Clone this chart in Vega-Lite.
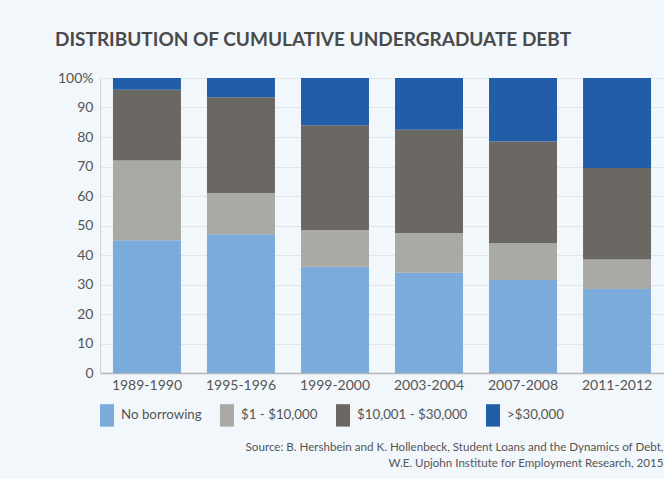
{
  "$schema": "https://vega.github.io/schema/vega-lite/v6.json",
  "width": 564,
  "height": 295,
  "autosize": {"type": "none"},
  "padding": {"left": 100, "top": 78, "right": 0, "bottom": 106},
  "background": "#f2f7fb",
  "title": {
    "text": "DISTRIBUTION OF CUMULATIVE UNDERGRADUATE DEBT",
    "anchor": "start",
    "frame": "group",
    "dx": -45,
    "offset": 21,
    "font": "Lato",
    "fontSize": 19,
    "fontWeight": "bold",
    "color": "#4a4a4a"
  },
  "data": {
    "values": [
      {"period": "1989-1990", "category": "No borrowing", "rank": 1, "pct": 45},
      {"period": "1989-1990", "category": "$1 - $10,000", "rank": 2, "pct": 27},
      {"period": "1989-1990", "category": "$10,001 - $30,000", "rank": 3, "pct": 24},
      {"period": "1989-1990", "category": ">$30,000", "rank": 4, "pct": 4},
      {"period": "1995-1996", "category": "No borrowing", "rank": 1, "pct": 47},
      {"period": "1995-1996", "category": "$1 - $10,000", "rank": 2, "pct": 14},
      {"period": "1995-1996", "category": "$10,001 - $30,000", "rank": 3, "pct": 32.5},
      {"period": "1995-1996", "category": ">$30,000", "rank": 4, "pct": 6.5},
      {"period": "1999-2000", "category": "No borrowing", "rank": 1, "pct": 36},
      {"period": "1999-2000", "category": "$1 - $10,000", "rank": 2, "pct": 12.5},
      {"period": "1999-2000", "category": "$10,001 - $30,000", "rank": 3, "pct": 35.5},
      {"period": "1999-2000", "category": ">$30,000", "rank": 4, "pct": 16},
      {"period": "2003-2004", "category": "No borrowing", "rank": 1, "pct": 34},
      {"period": "2003-2004", "category": "$1 - $10,000", "rank": 2, "pct": 13.5},
      {"period": "2003-2004", "category": "$10,001 - $30,000", "rank": 3, "pct": 35},
      {"period": "2003-2004", "category": ">$30,000", "rank": 4, "pct": 17.5},
      {"period": "2007-2008", "category": "No borrowing", "rank": 1, "pct": 31.5},
      {"period": "2007-2008", "category": "$1 - $10,000", "rank": 2, "pct": 12.5},
      {"period": "2007-2008", "category": "$10,001 - $30,000", "rank": 3, "pct": 34.5},
      {"period": "2007-2008", "category": ">$30,000", "rank": 4, "pct": 21.5},
      {"period": "2011-2012", "category": "No borrowing", "rank": 1, "pct": 28.5},
      {"period": "2011-2012", "category": "$1 - $10,000", "rank": 2, "pct": 10},
      {"period": "2011-2012", "category": "$10,001 - $30,000", "rank": 3, "pct": 31},
      {"period": "2011-2012", "category": ">$30,000", "rank": 4, "pct": 30.5}
    ]
  },
  "mark": {"type": "bar"},
  "encoding": {
    "x": {
      "field": "period",
      "type": "nominal",
      "sort": null,
      "scale": {"paddingInner": 0.277, "paddingOuter": 0.138},
      "axis": {
        "labelAngle": 0,
        "labelFont": "Lato",
        "labelFontSize": 14,
        "labelColor": "#555555",
        "labelPadding": 5,
        "ticks": false,
        "domainColor": "#b5b5b5",
        "domainWidth": 1.5,
        "title": [
          "Source: B. Hershbein and K. Hollenbeck, Student Loans and the Dynamics of Debt,",
          "W.E. Upjohn Institute for Employment Research, 2015"
        ],
        "titleFont": "Lato",
        "titleFontSize": 11.6,
        "titleFontWeight": "normal",
        "titleColor": "#555555",
        "titleAnchor": "end",
        "titleAlign": "right",
        "titleBaseline": "top",
        "titleLineHeight": 16,
        "titleX": 563,
        "titleY": 68
      }
    },
    "y": {
      "field": "pct",
      "type": "quantitative",
      "stack": "zero",
      "scale": {"domain": [0, 100], "nice": false},
      "axis": {
        "values": [0, 10, 20, 30, 40, 50, 60, 70, 80, 90, 100],
        "labelExpr": "datum.value == 100 ? '100%' : datum.label",
        "labelFont": "Lato",
        "labelFontSize": 14,
        "labelColor": "#555555",
        "labelPadding": 7,
        "ticks": false,
        "domainColor": "#d0d3d6",
        "gridColor": "#e2e5e8",
        "title": null
      }
    },
    "color": {
      "field": "category",
      "type": "nominal",
      "sort": ["No borrowing", "$1 - $10,000", "$10,001 - $30,000", ">$30,000"],
      "scale": {
        "domain": ["No borrowing", "$1 - $10,000", "$10,001 - $30,000", ">$30,000"],
        "range": ["#7aabdb", "#a9a9a5", "#6b6763", "#225ea8"]
      },
      "legend": {
        "title": null,
        "orient": "none",
        "direction": "horizontal",
        "legendX": 0,
        "legendY": 330,
        "padding": 0,
        "symbolType": "M-1,-1.6H1V1.6H-1Z",
        "symbolSize": 196,
        "symbolStrokeWidth": 0,
        "labelFont": "Lato",
        "labelFontSize": 13.3,
        "labelColor": "#555555",
        "labelOffset": 7,
        "columnPadding": 18
      }
    },
    "order": {"field": "rank", "type": "quantitative", "sort": "ascending"}
  },
  "config": {"view": {"stroke": null}}
}
